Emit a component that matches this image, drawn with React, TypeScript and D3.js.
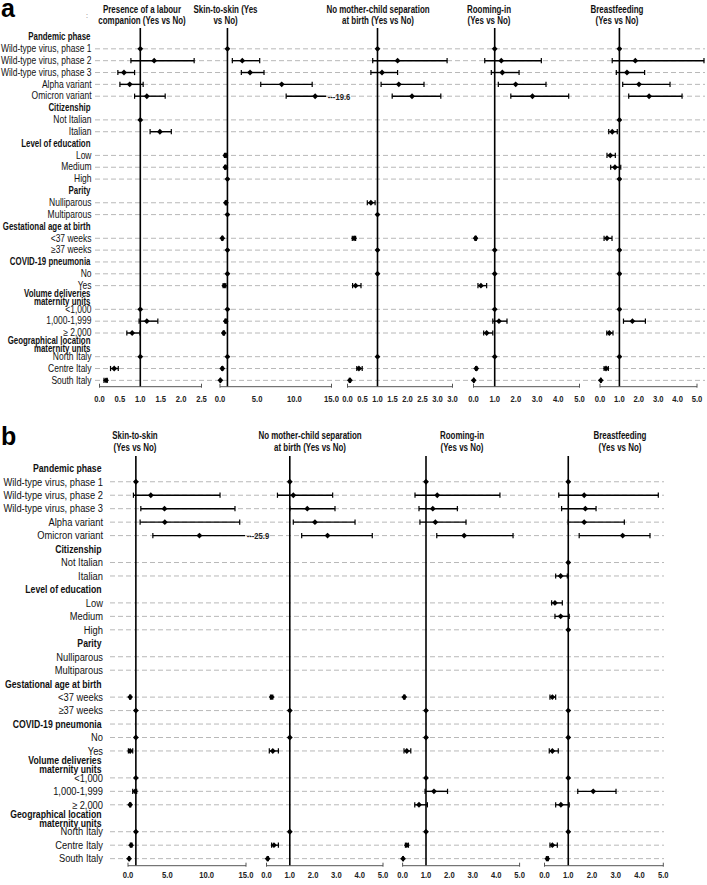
import React from "react";
import * as d3 from "d3";

// ---------- categories ----------
const rowLabels: string[] = [
  "Pandemic phase",
  "Wild-type virus, phase 1",
  "Wild-type virus, phase 2",
  "Wild-type virus, phase 3",
  "Alpha variant",
  "Omicron variant",
  "Citizenship",
  "Not Italian",
  "Italian",
  "Level of education",
  "Low",
  "Medium",
  "High",
  "Parity",
  "Nulliparous",
  "Multiparous",
  "Gestational age at birth",
  "<37 weeks",
  "≥37 weeks",
  "COVID-19 pneumonia",
  "No",
  "Yes",
  "Volume deliveries|maternity units",
  "<1,000",
  "1,000-1,999",
  "≥ 2,000",
  "Geographical  location|maternity units",
  "North Italy",
  "Centre  Italy",
  "South Italy",
];
const headerRows: number[] = [0, 6, 9, 13, 16, 19, 22, 26];
const dashedHeaderRows: number[] = [19];

// ---------- values: [OR, lower CI, upper CI] per row ----------
type CI = [number, number, number] | null;
const _: CI = null;
const R: CI = [1, 1, 1];

// Panel a
const aLabour: CI[] = [
  _, R, [1.34, 0.77, 2.32], [0.6, 0.45, 0.86], [0.74, 0.5, 1.07], [1.16, 0.86, 1.61],
  _, R, [1.48, 1.24, 1.76],
  _, _, _, _,
  _, _, _,
  _, _, _,
  _, _, _,
  _, R, [1.16, 0.97, 1.43], [0.8, 0.67, 0.99],
  _, R, [0.36, 0.27, 0.46], [0.16, 0.11, 0.19],
];
const aSkin: CI[] = [
  _, R, [3.0, 1.66, 5.34], [4.04, 2.87, 5.92], [8.3, 5.48, 12.4], [12.8, 8.9, 19.6],
  _, _, _,
  _, [0.72, 0.6, 0.85], [0.72, 0.62, 0.82], R,
  _, [0.8, 0.72, 0.88], R,
  _, [0.31, 0.25, 0.38], R,
  _, R, [0.58, 0.42, 0.78],
  _, R, [0.77, 0.68, 0.87], [0.5, 0.42, 0.6],
  _, R, [0.31, 0.25, 0.38], [0.05, 0.03, 0.08],
];
const aSeparation: CI[] = [
  _, R, [1.67, 0.84, 3.32], [1.15, 0.78, 1.67], [1.71, 1.12, 2.55], [2.15, 1.49, 3.11],
  _, _, _,
  _, _, _, _,
  _, [0.78, 0.66, 0.92], R,
  _, [0.22, 0.16, 0.27], R,
  _, R, [0.27, 0.17, 0.45],
  _, _, _, _,
  _, R, [0.38, 0.31, 0.49], [0.08, 0.06, 0.1],
];
const aRooming: CI[] = [
  _, R, [1.31, 0.53, 3.2], [1.36, 0.84, 2.15], [1.99, 1.17, 3.42], [2.78, 1.76, 4.49],
  _, _, _,
  _, _, _, _,
  _, _, _,
  _, [0.1, 0.07, 0.13], R,
  _, R, [0.35, 0.21, 0.62],
  _, R, [1.2, 0.91, 1.58], [0.62, 0.48, 0.91],
  _, R, [0.13, 0.1, 0.16], [0.01, 0.005, 0.02],
];
const aBreast: CI[] = [
  _, R, [1.82, 0.63, 5.36], [1.39, 0.84, 2.3], [2.01, 1.17, 3.61], [2.53, 1.48, 4.23],
  _, R, [0.63, 0.45, 0.89],
  _, [0.53, 0.36, 0.79], [0.77, 0.55, 1.07], R,
  _, _, _,
  _, [0.36, 0.21, 0.62], R,
  _, R, _,
  _, R, [1.67, 1.21, 2.34], [0.48, 0.35, 0.67],
  _, R, [0.31, 0.21, 0.43], [0.04, 0.03, 0.06],
];

// Panel b
const bSkin: CI[] = [
  _, R, [2.9, 0.69, 11.7], [4.64, 1.63, 13.6], [4.68, 1.54, 14.2], [9.08, 3.16, 25.9],
  _, _, _,
  _, _, _, _,
  _, _, _,
  _, [0.27, 0.2, 0.35], R,
  _, R, [0.27, 0.05, 0.6],
  _, R, [0.9, 0.6, 1.1], [0.27, 0.2, 0.35],
  _, R, [0.4, 0.3, 0.5], [0.14, 0.1, 0.2],
];
const bSeparation: CI[] = [
  _, R, [1.15, 0.47, 2.84], [1.75, 1.0, 2.94], [2.08, 1.15, 3.8], [2.62, 1.51, 4.54],
  _, _, _,
  _, _, _, _,
  _, _, _,
  _, [0.22, 0.17, 0.27], R,
  _, R, [0.27, 0.12, 0.51],
  _, _, _, _,
  _, R, [0.32, 0.22, 0.51], [0.05, 0.03, 0.08],
];
const bRooming: CI[] = [
  _, R, [1.48, 0.53, 4.16], [1.29, 0.7, 2.34], [1.4, 0.74, 2.71], [2.63, 1.46, 4.72],
  _, _, _,
  _, _, _, _,
  _, _, _,
  _, [0.07, 0.05, 0.1], R,
  _, R, [0.18, 0.06, 0.35],
  _, R, [1.34, 0.96, 1.92], [0.7, 0.52, 1.06],
  _, R, [0.18, 0.12, 0.25], [0.02, 0.01, 0.03],
];
const bBreast: CI[] = [
  _, R, [1.67, 0.6, 4.79], [1.72, 0.72, 2.17], [1.67, 1.0, 3.36], [3.29, 1.46, 4.44],
  _, R, [0.68, 0.47, 0.96],
  _, [0.44, 0.3, 0.75], [0.68, 0.44, 1.04], R,
  _, _, _,
  _, [0.33, 0.23, 0.47], R,
  _, R, [0.33, 0.2, 0.58],
  _, R, [2.05, 1.4, 3.01], [0.69, 0.47, 1.04],
  _, R, [0.33, 0.23, 0.54], [0.12, 0.08, 0.16],
];

// ---------- tick labels ----------
const ticksHalfTo25 = [0, 0.5, 1, 1.5, 2, 2.5];
const ticksFives = [0, 5, 10, 15];
const ticksHalfTo35 = [0, 0.5, 1, 1.5, 2, 2.5, 3, 3.5];
const tickLabelsHalfTo35 = ["0.0", "0.5", "1.0", "1.5", "2.0", "2.5", "3.0", "3.0"];
const ticksOnes = [0, 1, 2, 3, 4, 5];

// ---------- column titles ----------
const titleLabour = ["Presence of a labour", "companion (Yes vs No)"];
const titleSkinA = ["Skin-to-skin  (Yes", "vs No)"];
const titleSkinB = ["Skin-to-skin", "(Yes vs No)"];
const titleSeparation = ["No mother-child separation", "at birth (Yes vs No)"];
const titleRooming = ["Rooming-in", "(Yes vs No)"];
const titleBreast = ["Breastfeeding", "(Yes vs No)"];

const FONT = "'Liberation Sans', Arial, sans-serif";
const fmt = d3.format(".1f");
const SX = 0.85; // horizontal condensation to mimic a narrow font

type Col = {
  data: CI[];
  x0: number;
  x1: number;
  max: number;
  ticks: number[];
  tickLabels?: string[];
  title: string[];
  titleX: number;
  clipAt?: number;
};

type PanelCfg = {
  letter: string;
  letterY: number;
  rowY0: number;
  rowStep: number;
  labelRight: number;
  headerRight: number;
  fontSize: number;
  lineGap: number;
  lineX0: number;
  lineX1: number;
  refTop: number;
  axisY: number;
  tickY: number;
  titleY: [number, number];
  titleSize: number;
};

const panelA: PanelCfg = {
  letter: "a", letterY: 17, rowY0: 37, rowStep: 11.84, labelRight: 91.5, headerRight: 90.5, fontSize: 10, lineGap: 7.4,
  lineX0: 95, lineX1: 705, refTop: 28, axisY: 386.7, tickY: 398.5, titleY: [9.5, 20.5], titleSize: 10.2,
};
const panelB: PanelCfg = {
  letter: "b", letterY: 445, rowY0: 468.3, rowStep: 13.46, labelRight: 103, headerRight: 101.5, fontSize: 11, lineGap: 9,
  lineX0: 110, lineX1: 664, refTop: 456, axisY: 865.7, tickY: 875, titleY: [436, 448], titleSize: 10.2,
};

const colsA: Col[] = [
  { data: aLabour, x0: 99.5, x1: 201.5, max: 2.5, ticks: ticksHalfTo25, title: titleLabour, titleX: 142 },
  { data: aSkin, x0: 220, x1: 331.5, max: 15, ticks: ticksFives, title: titleSkinA, titleX: 225.5, clipAt: 14.3 },
  { data: aSeparation, x0: 347.5, x1: 452.5, max: 3.5, ticks: ticksHalfTo35, tickLabels: tickLabelsHalfTo35, title: titleSeparation, titleX: 378 },
  { data: aRooming, x0: 473.5, x1: 579.5, max: 5, ticks: ticksOnes, title: titleRooming, titleX: 489 },
  { data: aBreast, x0: 600, x1: 697, max: 5, ticks: ticksOnes, title: titleBreast, titleX: 617 },
];
const colsB: Col[] = [
  { data: bSkin, x0: 128, x1: 246, max: 15, ticks: ticksFives, title: titleSkinB, titleX: 135, clipAt: 14.9 },
  { data: bSeparation, x0: 266.5, x1: 383, max: 5, ticks: ticksOnes, title: titleSeparation, titleX: 310 },
  { data: bRooming, x0: 402.6, x1: 519.6, max: 5, ticks: ticksOnes, title: titleRooming, titleX: 462 },
  { data: bBreast, x0: 544.5, x1: 663.3, max: 5, ticks: ticksOnes, title: titleBreast, titleX: 620 },
];

const marker = d3.symbol().type(d3.symbolDiamond2).size(22)() as string;

function T({ x, y, children, anchor = "start", size = 10, bold = false, fill = "#111", sx = SX }: {
  x: number; y: number; children: React.ReactNode; anchor?: "start" | "middle" | "end";
  size?: number; bold?: boolean; fill?: string; sx?: number;
}) {
  return (
    <text transform={`translate(${x},${y}) scale(${sx},1)`} textAnchor={anchor} dominantBaseline="central"
      fontFamily={FONT} fontSize={size} fontWeight={bold ? "bold" : "normal"} fill={fill}>
      {children}
    </text>
  );
}

function Panel({ cfg, cols }: { cfg: PanelCfg; cols: Col[] }) {
  const y = d3
    .scalePoint<number>()
    .domain(d3.range(rowLabels.length))
    .range([cfg.rowY0, cfg.rowY0 + (rowLabels.length - 1) * cfg.rowStep]);

  return (
    <g>
      <text x={1} y={cfg.letterY} fontFamily={FONT} fontWeight="bold" fontSize={25} fill="#000">
        {cfg.letter}
      </text>
      {/* dashed row guides */}
      {rowLabels.map((lab, i) => {
        const isHeader = headerRows.includes(i);
        if (isHeader && !dashedHeaderRows.includes(i)) return null;
        return (
          <line key={"g" + i} x1={cfg.lineX0} x2={cfg.lineX1} y1={y(i)} y2={y(i)}
            stroke="#b8b8b8" strokeWidth={1} strokeDasharray="5,3" />
        );
      })}
      {/* row labels */}
      {rowLabels.map((lab, i) => {
        const isHeader = headerRows.includes(i);
        const parts = lab.split("|");
        return (
          <g key={"l" + i}>
            {parts.map((p, k) => (
              <T key={k} x={isHeader ? cfg.headerRight : cfg.labelRight}
                y={y(i)! + (k - (parts.length - 1) / 2) * cfg.lineGap}
                anchor="end" size={cfg.fontSize} bold={isHeader} sx={isHeader ? 0.79 : SX}>
                {p}
              </T>
            ))}
          </g>
        );
      })}
      {cols.map((col, ci) => {
        const x = d3.scaleLinear().domain([0, col.max]).range([col.x0, col.x1]);
        const labels = col.tickLabels ?? col.ticks.map((t) => fmt(t));
        return (
          <g key={"c" + ci}>
            {col.title.map((t, k) => (
              <T key={"t" + k} x={col.titleX} y={cfg.titleY[k]} anchor="middle" bold size={cfg.titleSize} sx={0.78}>
                {t}
              </T>
            ))}
            <line x1={x(1)} x2={x(1)} y1={cfg.refTop} y2={cfg.axisY} stroke="#000" strokeWidth={1.6} />
            <line x1={x(0)} x2={x(col.max)} y1={cfg.axisY} y2={cfg.axisY} stroke="#555" strokeWidth={1} />
            <line x1={x(0)} x2={x(0)} y1={cfg.axisY - 3} y2={cfg.axisY + 1} stroke="#555" strokeWidth={1} />
            <line x1={x(col.max)} x2={x(col.max)} y1={cfg.axisY - 3} y2={cfg.axisY + 1} stroke="#555" strokeWidth={1} />
            {col.ticks.map((t, k) => (
              <T key={"k" + k} x={x(t)} y={cfg.tickY} anchor="middle" bold size={9.8} sx={0.78} fill="#222">
                {labels[k]}
              </T>
            ))}
            {col.data.map((d, i) => {
              if (!d) return null;
              const [or, lo, hi] = d;
              const yy = y(i)!;
              const clipped = col.clipAt !== undefined && hi > col.max;
              const xr = clipped ? x(col.clipAt!) : x(hi);
              return (
                <g key={"d" + i}>
                  {hi !== lo && (
                    <>
                      <line x1={x(lo)} x2={xr} y1={yy} y2={yy} stroke="#000" strokeWidth={1.4} />
                      <line x1={x(lo)} x2={x(lo)} y1={yy - 2.6} y2={yy + 2.6} stroke="#000" strokeWidth={1.2} />
                      {!clipped && (
                        <line x1={xr} x2={xr} y1={yy - 2.6} y2={yy + 2.6} stroke="#000" strokeWidth={1.2} />
                      )}
                    </>
                  )}
                  {clipped && (
                    <T x={xr + 1.5} y={yy} bold size={9.8} sx={0.78} fill="#222">
                      {"---" + hi}
                    </T>
                  )}
                  <path d={marker} transform={`translate(${x(or)},${yy})`} fill="#000" />
                </g>
              );
            })}
          </g>
        );
      })}
    </g>
  );
}

export default function App() {
  return (
    <svg width={707} height={885} style={{ position: "absolute", left: 0, top: 0, background: "#fff" }}>
      <rect width={707} height={885} fill="#fff" />
      <T x={86} y={15} size={7} fill="#666" sx={1}>:</T>
      <Panel cfg={panelA} cols={colsA} />
      <Panel cfg={panelB} cols={colsB} />
    </svg>
  );
}
